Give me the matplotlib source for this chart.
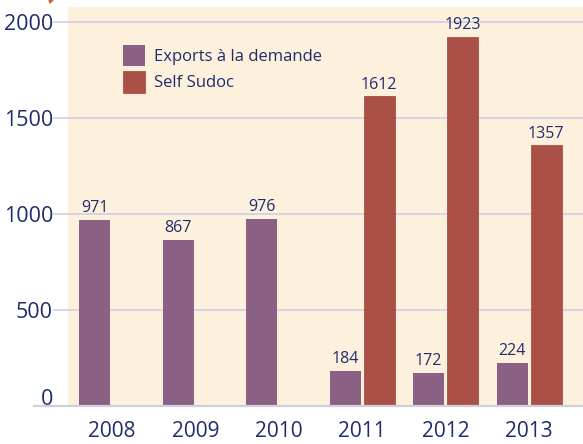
import matplotlib.pyplot as plt
import matplotlib.patches as mpatches
import matplotlib.transforms as mtransforms
import numpy as np

# data
years = ["2008", "2009", "2010", "2011", "2012", "2013"]
exports = [971, 867, 976, 184, 172, 224]
self_sudoc = [0, 0, 0, 1612, 1923, 1357]
yticks = [0, 500, 1000, 1500, 2000]

purple = "#8a6184"
red = "#aa5046"
cream = "#fdf1de"
navy = "#1f2c6c"
grid_col = "#cfcfe2"

plt.rcParams["font.family"] = ["Open Sans", "DejaVu Sans"]

fig = plt.figure(figsize=(5.83, 4.44), dpi=100)
W, H = 583, 444
left, right, top, bottom = 53, 583, 7, 406
ax = fig.add_axes([left / W, 1 - bottom / H, (right - left) / W, (bottom - top) / H])

# cream panel starts a bit to the right of the axes edge
ax.add_patch(mpatches.Rectangle(((68 - left) / (right - left), 0), 1, 1,
                                transform=ax.transAxes, color=cream, zorder=0, lw=0))

x = np.arange(len(years))
w = 0.372
off = 0.204
ax.bar(x - off, exports, w, color=purple, zorder=3, label="Exports à la demande")
ax.bar(x + off, self_sudoc, w, color=red, zorder=3, label="Self Sudoc",
       edgecolor=red, linewidth=0.6)

for xi, v in zip(x, exports):
    ax.text(xi - off, v + 20, str(v), ha="center", va="bottom", fontsize=11.5, color=navy)
for xi, v in zip(x, self_sudoc):
    if v > 0:
        ax.text(xi + off, v + 20, str(v), ha="center", va="bottom", fontsize=11.5, color=navy)

ax.set_xlim(-0.707, 5.647)
ax.set_ylim(0, 2078)
for v in yticks[1:]:
    ax.axhline(v, color=grid_col, lw=1.2, zorder=1)
# baseline extends a little to the left
ax.plot([-0.035, 1], [0, 0], transform=ax.transAxes, color=grid_col,
        lw=1.6, clip_on=False, zorder=4)

ax.set_yticks(yticks)
ax.set_xticks(x)
ax.set_xticklabels(years)
ax.tick_params(axis="y", length=0, pad=0, labelsize=15.5, labelcolor=navy)
ax.tick_params(axis="x", length=0, pad=11, labelsize=15, labelcolor=navy)
# the 0 label sits above the baseline
zero_lbl = ax.get_yticklabels()[0]
zero_lbl.set_transform(zero_lbl.get_transform() +
                       mtransforms.ScaledTranslation(0, 9 / 100, fig.dpi_scale_trans))
for s in ax.spines.values():
    s.set_visible(False)
ax.set_facecolor("none")

ax.legend(loc="upper left", bbox_to_anchor=(0.132, 0.905), frameon=False,
          borderaxespad=0, borderpad=0, fontsize=12, labelcolor=navy,
          handlelength=1.35, handleheight=1.6, handletextpad=0.5, labelspacing=0.3)

# small orange tip at the top left
fig.patches.append(mpatches.Polygon([[49 / W, 1], [53 / W, 1], [50 / W, 1 - 3 / H]],
                                    closed=True, color="#c8643c", transform=fig.transFigure))

fig.savefig("out.png", dpi=100)
